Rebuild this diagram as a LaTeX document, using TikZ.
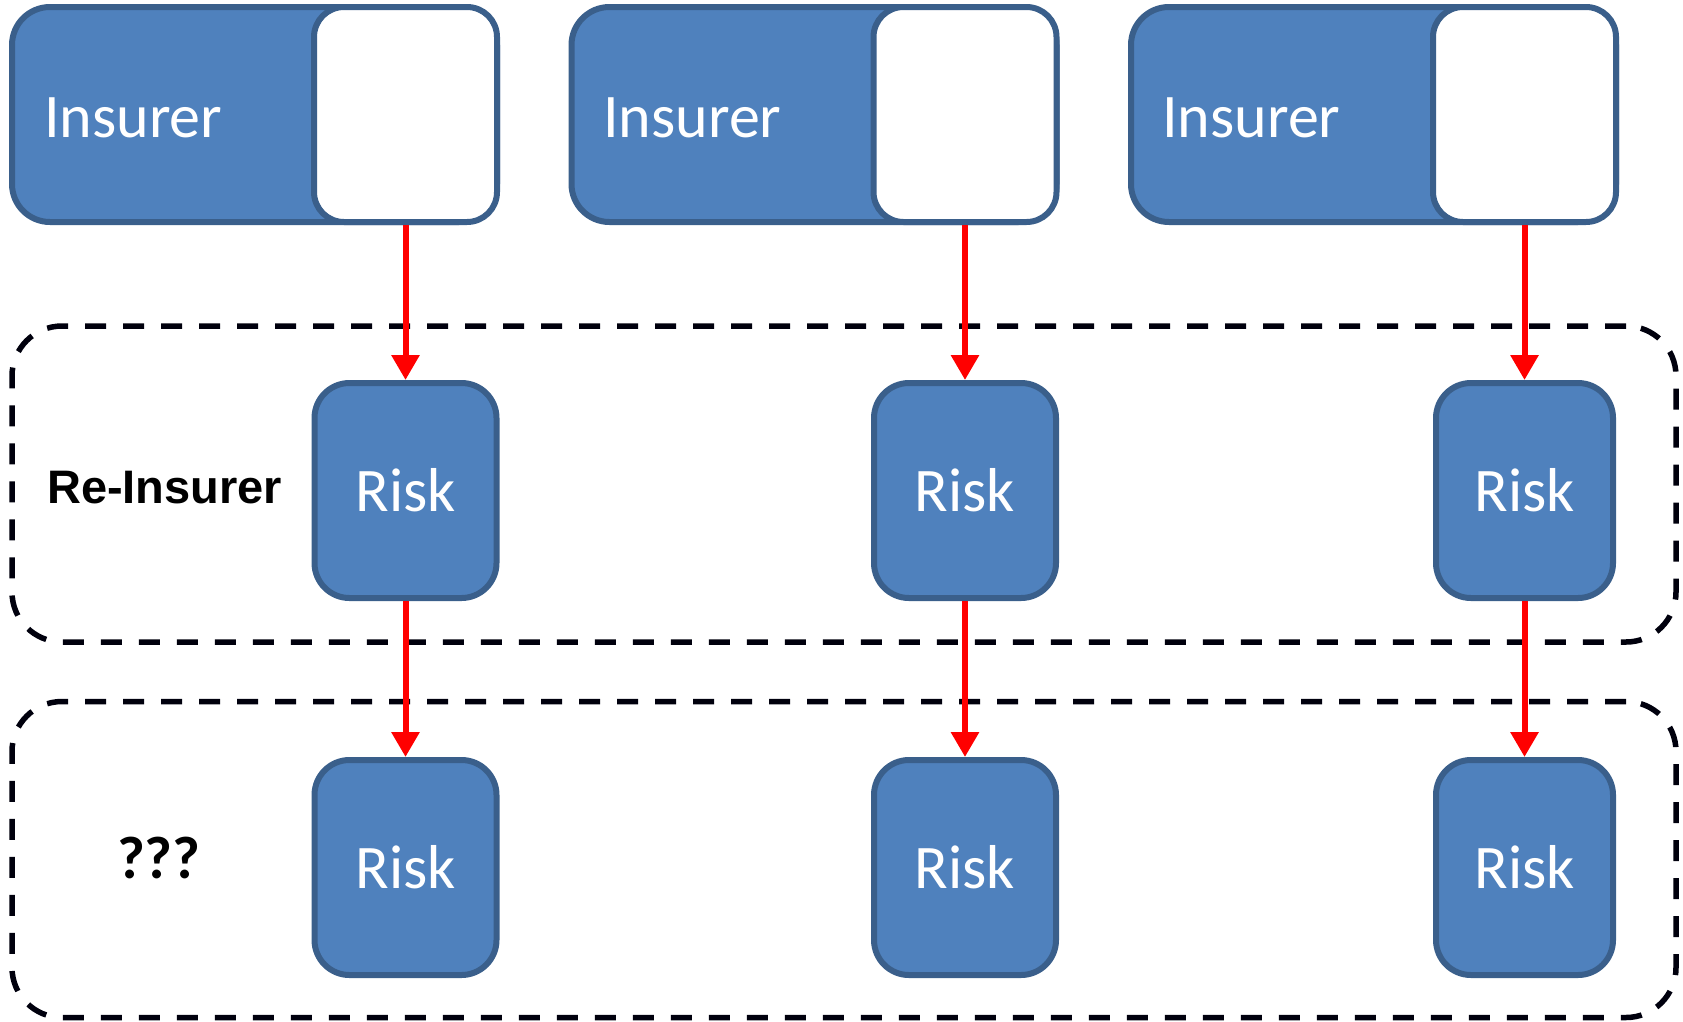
\documentclass[tikz,border=0pt]{standalone}
\usepackage{fontspec}
\setmainfont{Carlito}
\newfontfamily\headfont{Liberation Sans}
\usepackage{tikz}
\usetikzlibrary{positioning,arrows.meta}
\definecolor{boxfill}{HTML}{4F81BD}
\definecolor{boxline}{HTML}{3A5F8B}
\definecolor{flow}{HTML}{FF0000}

\begin{document}
\begin{tikzpicture}[
  x=1pt, y=-1pt,
  bluebox/.style={draw=boxline, fill=boxfill, line width=6pt, rounded corners=38pt, inner sep=0pt},
  insbox/.style={bluebox, minimum width=485pt, minimum height=215pt},
  sharebox/.style={bluebox, fill=white, rounded corners=30pt, minimum width=183pt, minimum height=215pt},
  riskbox/.style={bluebox, rounded corners=35pt, minimum width=182pt, minimum height=215pt,
    text=white, font=\fontsize{62}{70}\selectfont},
  inslbl/.style={anchor=base west, inner sep=0pt, text=white, font=\fontsize{62}{70}\selectfont},
  grpbox/.style={draw=black!95!blue, line width=5.5pt, dash pattern=on 21pt off 17pt,
    rounded corners=50pt, minimum width=1664pt, minimum height=316pt, inner sep=0pt},
  sidelbl/.style={anchor=base west, inner sep=0pt},
  arr/.style={-{Triangle[width=27pt, length=25pt]}, draw=flow, line width=6pt}]
\useasboundingbox (0,0) rectangle (1683,1021);
% dashed groups
\node[grpbox] (reins) at (844,484) {};
\node[grpbox] (retro) at (844,859.5) {};
\node[sidelbl, font=\headfont\bfseries\fontsize{47}{56}\selectfont] (rlbl) at (47,503) {Re-Insurer};
\node[sidelbl, font=\bfseries\fontsize{60}{68}\selectfont] (qlbl) at (117,878) {???};
% insurers, each with its ceded share
\node[insbox] (ins1) at (254.5,114.5) {};
\node[insbox] (ins2) at (814,114.5) {};
\node[insbox] (ins3) at (1373.5,114.5) {};
\node[sharebox] (sh1) at (405.5,114.5) {};
\node[sharebox] (sh2) at (965,114.5) {};
\node[sharebox] (sh3) at (1524.5,114.5) {};
\node[inslbl] (n1) at (44,137) {Insurer};
\node[inslbl] (n2) at (603,137) {Insurer};
\node[inslbl] (n3) at (1162,137) {Insurer};
% risks
\node[riskbox] (r1) at (405.5,490.5) {Risk};
\node[riskbox] (r2) at (965,490.5) {Risk};
\node[riskbox, minimum width=177pt] (r3) at (1524.5,490.5) {Risk};
\node[riskbox] (s1) at (405.5,867.5) {Risk};
\node[riskbox] (s2) at (965,867.5) {Risk};
\node[riskbox, minimum width=177pt] (s3) at (1524.5,867.5) {Risk};
% arrows
\draw[arr] (sh1.south) -- (r1.north);
\draw[arr] (sh2.south) -- (r2.north);
\draw[arr] (sh3.south) -- (r3.north);
\draw[arr] (r1.south) -- (s1.north);
\draw[arr] (r2.south) -- (s2.north);
\draw[arr] (r3.south) -- (s3.north);
\end{tikzpicture}
\end{document}
